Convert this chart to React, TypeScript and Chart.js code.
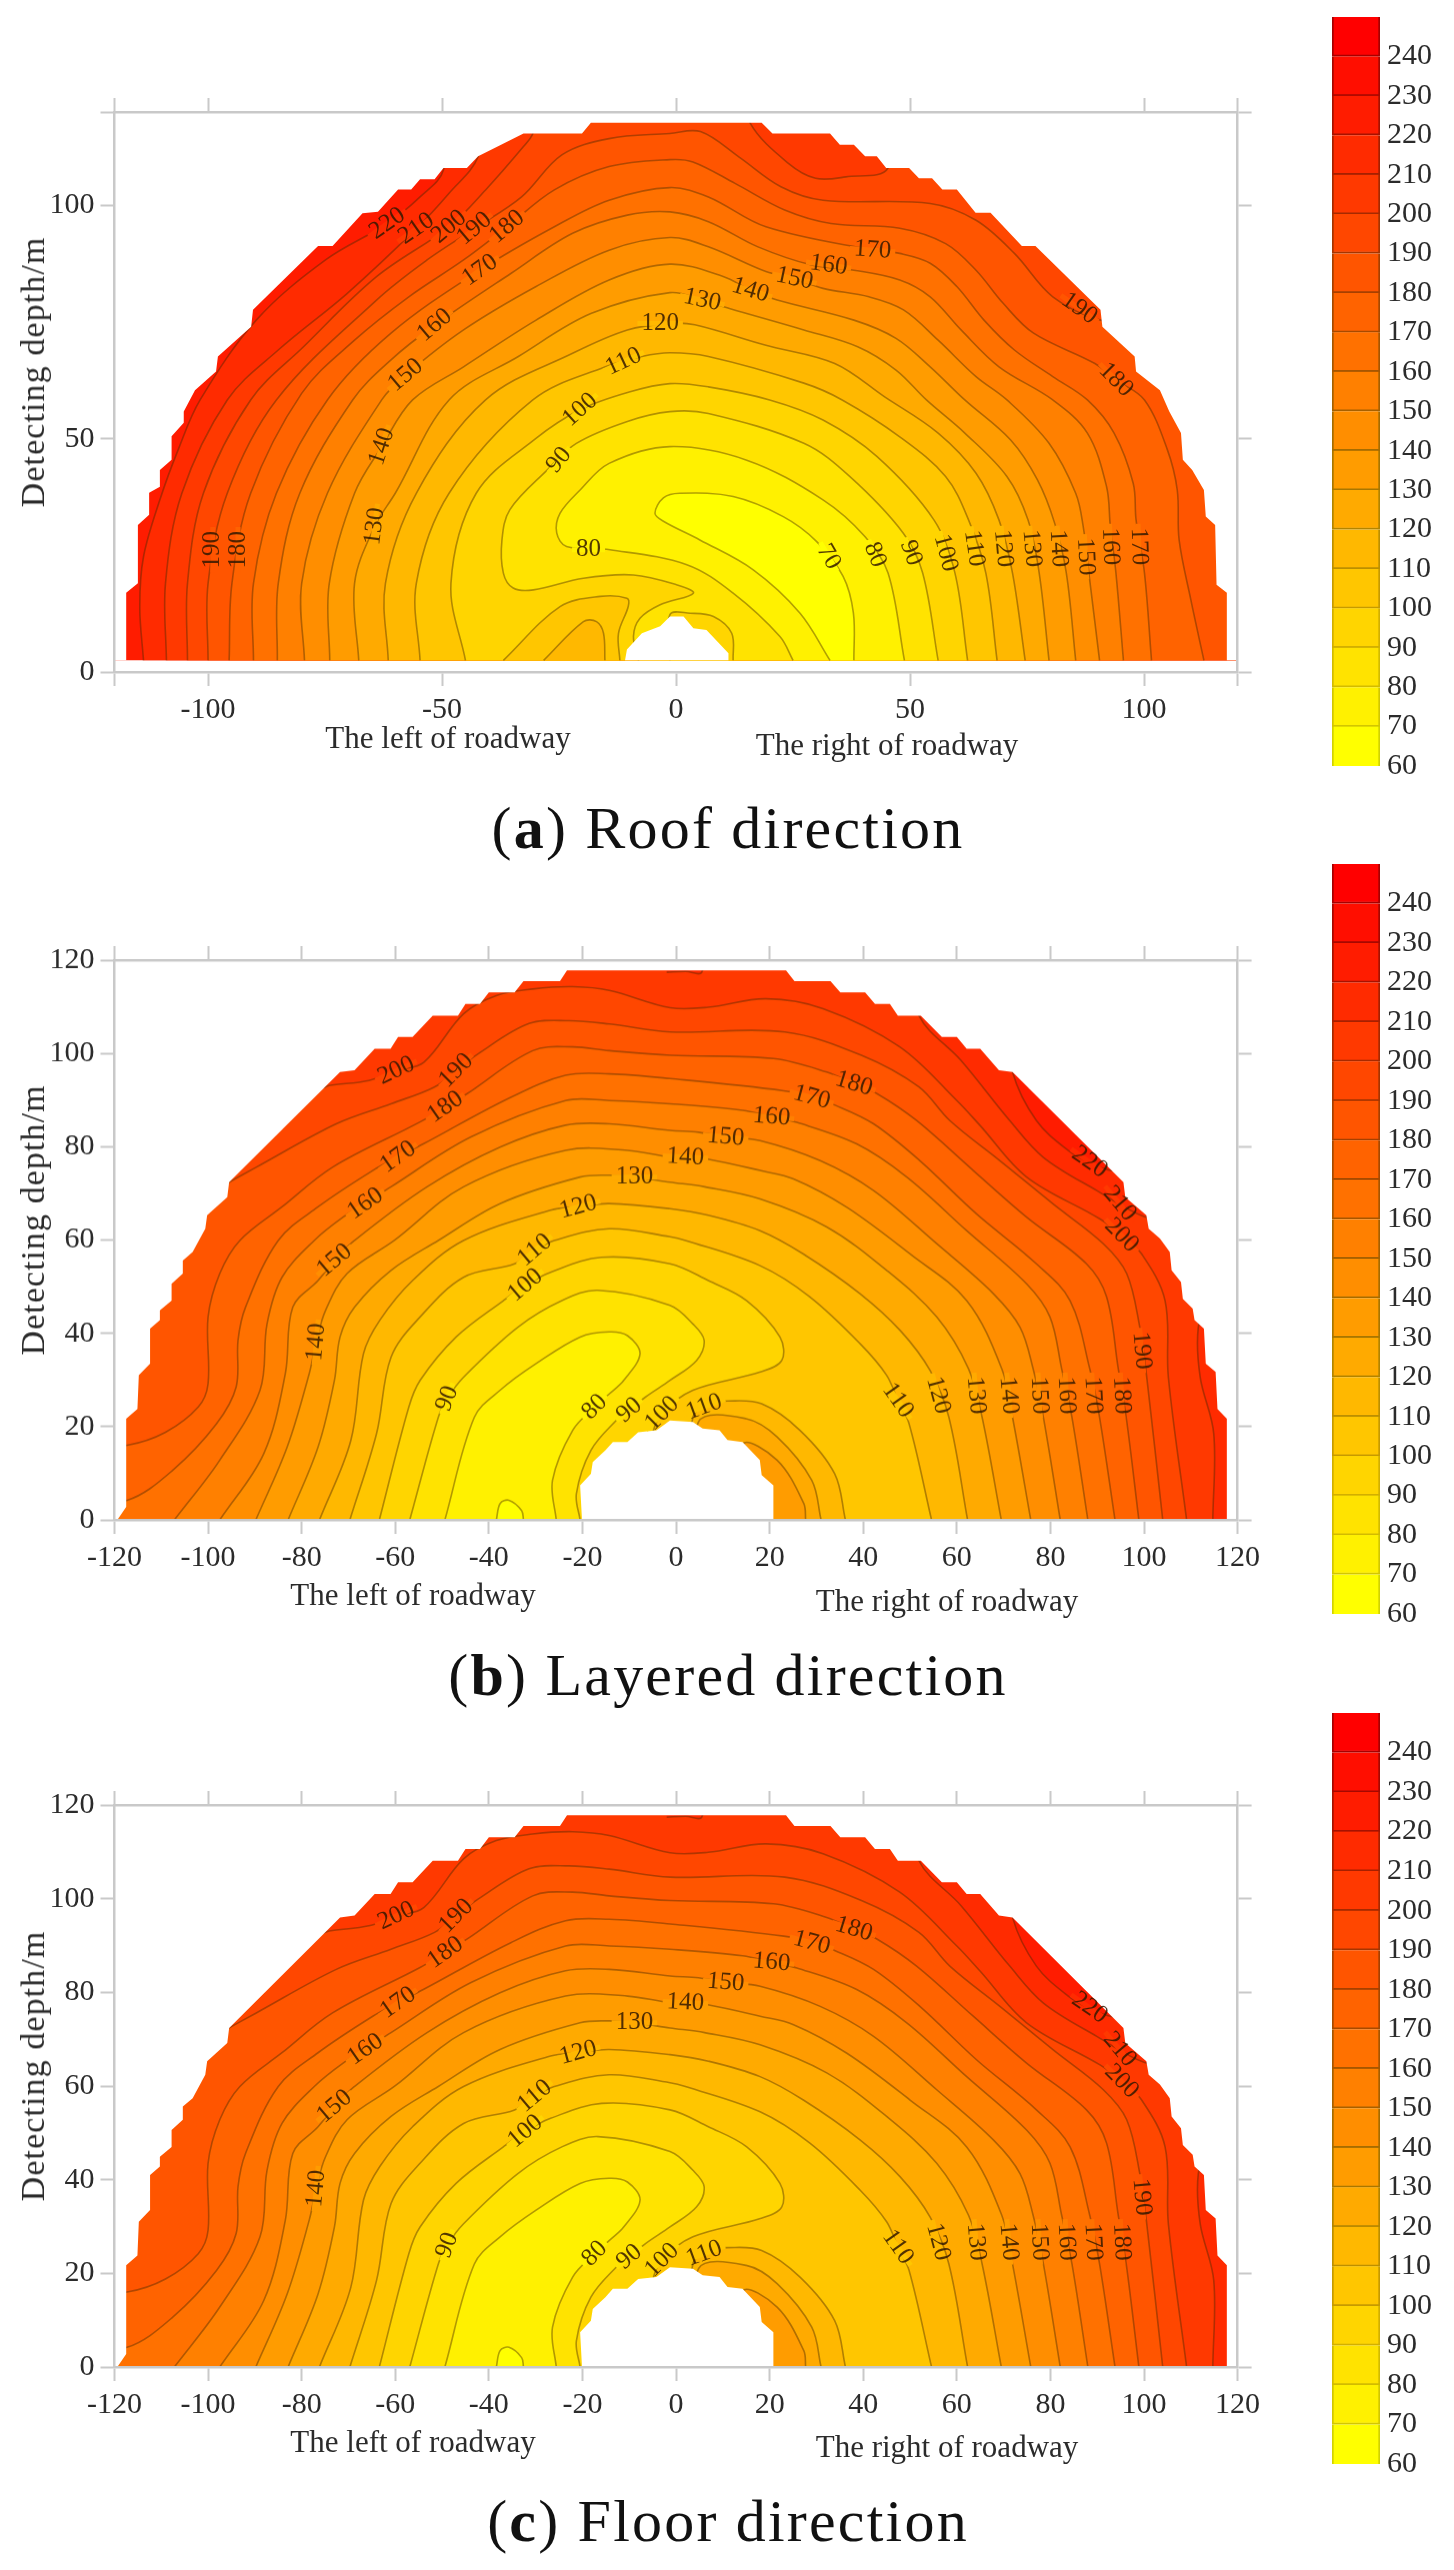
import React, { useEffect, useRef } from "react";
import { Chart, registerables } from "chart.js";

Chart.register(...registerables);

type Pt = [number, number];
type Lab = [number, number, number, number];

// colour of each 10-wide band, 60-70 up to 240-250
const bandColors = ["#ffff00","#fff100","#ffe300","#ffd500","#ffc600","#ffb800","#ffaa00","#ff9c00","#ff8e00","#ff8000","#ff7100","#ff6300","#ff5500","#ff4700","#ff3900","#ff2b00","#ff1c00","#ff0e00","#ff0000"];
// the darker edge of each band of the colour bar
const barEdges = ["#d2d200","#d2c600","#d2bb00","#d2af00","#c69a00","#bc8f00","#b28400","#a87600","#a66c00","#a66000","#a65600","#a64a00","#a64000","#a63500","#a62a00","#a62000","#a61200","#a60800","#a60000"];
const barLevels = [60,70,80,90,100,110,120,130,140,150,160,170,180,190,200,210,220,230,240,250];
const barTicks = [60,70,80,90,100,110,120,130,140,150,160,170,180,190,200,210,220,230,240];

const roofXTicks = [-120,-100,-50,0,50,100,120];
const roofYTicks = [0,50,100,120];
const layeredXTicks = [-120,-100,-80,-60,-40,-20,0,20,40,60,80,100,120];
const layeredYTicks = [0,20,40,60,80,100,120];

// ---------- (a) Roof direction: contours ----------
const roofBase: Pt[] = [[-130,2.5],[-130,125],[130,125],[130,2.5]];
const roof220: Pt[] = [[-113.8,2.5],[-114.6,14],[-113.8,24.7],[-110.3,36.9],[-106.4,47.6],[-101.7,58.3],[-89.7,75.4],[-74.9,88.3],[-61.7,96.1],[-54.7,101.8],[-49.7,107.6],[-49,125],[130,125],[130,2.5]];
const roof210: Pt[] = [[-108.9,2.5],[-109.1,19],[-105.6,38.3],[-95.9,58.3],[-85,69],[-70.3,81.1],[-55.5,95],[-48.5,102.6],[-42.3,110.4],[-40,125],[130,125],[130,2.5]];
const roof200: Pt[] = [[-104.4,2.5],[-104.4,19],[-101,38.3],[-90.9,58.3],[-79.6,69.7],[-64,84.7],[-48.5,95.4],[-40.7,103.3],[-32.6,112.6],[-30.6,115.4],[-28,125],[15,125],[15.9,117.5],[24,109],[29.8,105.8],[36.3,106.1],[45.3,108],[47,125],[130,125],[130,2.5]];
const roof190: Pt[] = [[-100,2.5],[-100,19],[-95.9,38.3],[-85.4,58.3],[-64,79.7],[-53.2,88.3],[-43.1,95],[-33,101.8],[-24.4,110.8],[-14.3,114.3],[-1.3,115.4],[5.2,115.8],[13.4,110.4],[22.4,104],[31.4,101.1],[54.3,100.4],[64.1,96.8],[72.3,89.7],[80.5,80.4],[90.7,75.4],[100,75],[130,70],[130,2.5]];
const roof180: Pt[] = [[-95.5,2.5],[-94.9,19],[-90.9,38.3],[-80,59.7],[-68.7,71.1],[-57.1,80.4],[-45.4,88.3],[-36.1,95.4],[-26,103.3],[-14.3,108.3],[-1.3,109.8],[3.6,109.3],[12.6,104.7],[23.2,99],[33.1,96.1],[47.8,95.1],[57.6,91.8],[64.1,86.1],[69.9,79],[76.4,72.6],[89.5,66.1],[94,62.6],[100.1,58.3],[105,47.6],[107.1,39],[107.5,28.3],[110,15.5],[112.8,2.5]];
const roof170: Pt[] = [[-90.3,2.5],[-90.3,19],[-85.4,38.3],[-74.5,58.3],[-60.9,72.6],[-41.9,86.1],[-26,95.4],[-14.3,101.1],[-1.3,103.8],[6.9,101.8],[19.2,95.4],[42,90.4],[47.8,89.7],[54.3,87.6],[60,82.6],[65.8,75.4],[72.3,69],[80.5,63.3],[87.9,58.3],[93.6,51.2],[97.7,40.4],[98.3,32.6],[100.1,21.2],[101.6,2.5]];
const roof160: Pt[] = [[-85.2,2.5],[-85,19],[-80.4,38.3],[-69.1,58.3],[-60.9,66.9],[-51.6,74.3],[-35.3,85.4],[-22.1,94],[-10.4,97.9],[-1.3,98.6],[6.9,96.5],[17.5,91.1],[29,87.2],[38,86.1],[47.8,84],[54.3,80.4],[60.9,73.3],[69,65.4],[80.5,58.3],[87.9,51.2],[92,39.7],[92.8,31.2],[94,21.2],[95.6,2.5]];
const roof150: Pt[] = [[-79.4,2.5],[-80,19],[-74.5,38.3],[-62.9,58.3],[-57.8,63.6],[-45.4,73.3],[-29.9,82.6],[-14.3,90.4],[-1.3,93.1],[6.9,91.1],[19.2,85.8],[25.3,84.3],[31.4,82.2],[41.2,80.4],[48.6,77.6],[56,71.1],[64.1,63.3],[70.7,58.3],[79.7,49],[85.4,38.3],[87,31.2],[88.3,20.5],[90.5,2.5]];
const roof140: Pt[] = [[-74,2.5],[-74.1,19],[-68.7,38.3],[-62.9,48.3],[-56.3,58.3],[-45.4,65.4],[-29.9,75.4],[-14.3,84],[-1.3,87.4],[10.2,84.7],[15.9,81.8],[21.6,79.7],[38,75.4],[47,71.5],[54.3,65.4],[61.7,58.3],[71.5,49.7],[77.2,41.2],[80.9,31.9],[83.4,21.2],[85.4,2.5]];
const roof130: Pt[] = [[-67.8,2.5],[-68.7,19],[-64.4,31.2],[-60,38.3],[-48.5,58.3],[-33.7,67.6],[-18.2,76.8],[-1.3,81.3],[5.6,79.7],[11.4,77.9],[27.3,73.3],[38.8,69.7],[47,64.7],[53.5,58.3],[61.7,51.2],[70.7,41.9],[75.2,32.6],[77.6,21.2],[79.7,2.5]];
const roof120: Pt[] = [[-61.5,2.5],[-62.1,19],[-55.5,38.3],[-40.7,58.3],[-22.1,68.3],[-10.4,73.3],[-1.3,74.7],[4,74.4],[19.2,70],[33.9,66.1],[44.5,59],[56,51.2],[64.1,42.6],[69,32.6],[71.9,21.2],[74.6,2.5]];
const roof110: Pt[] = [[-54.7,2.5],[-55.5,19],[-48.5,38.3],[-30.6,58.3],[-15.1,65.4],[-7.3,67.6],[-1.3,68.4],[6.9,67.6],[27.3,61.9],[35.5,58.3],[47.8,50.4],[57.6,41.9],[62.5,32.6],[66.2,21.2],[68.6,2.5]];
const roof100: Pt[] = [[-45,2.5],[-48.1,19],[-42.7,38.3],[-30,50],[-20.5,56.2],[-10,60],[-1.3,61.8],[6.9,61.1],[20,58.3],[31.4,54],[42.9,46.2],[55.1,32.6],[59.6,21.2],[62.3,2.5]];
const roofLobe100: Pt[] = [[-36.9,2.5],[-24.8,14],[-16.2,16.2],[-10.5,15.8],[-10.2,14.1],[-12.3,8.3],[-12,2.5]];
const roofLobe110: Pt[] = [[-28.3,2.5],[-19.8,10.8],[-17,10.8],[-15.5,8.3],[-15.2,2.5]];
const roof90: Pt[] = [[-8,2.5],[-9.1,7.6],[-7.7,11.5],[-3.4,14.4],[3.7,16.9],[0.1,18.7],[-9.1,20.8],[-19.8,20.1],[-30.5,17.6],[-34.8,18],[-36.9,21.2],[-37.2,28.3],[-35.5,34.8],[-27.5,43.3],[-21.3,49],[-10.4,53.7],[-1.3,55.8],[6.9,55.4],[27.3,49],[37.1,41.9],[48.6,29.7],[52.7,21.2],[56,2.5]];
const roofHoleIsland: Pt[] = [[-1.3,2.5],[-1.3,12.3],[3,12.6],[8,11.9],[11.9,8.3],[12.2,2.5]];
const roof80: Pt[] = [[25,2.5],[22.2,7.6],[12.2,16.9],[2.3,23],[-14.1,26.2],[-23.4,26.9],[-25.5,29.8],[-24.8,34],[-20.5,39],[-14.3,44.7],[-1.3,48.3],[15.1,45.4],[31.4,36.9],[40.4,29],[45.3,21.2],[48.8,2.5]];
const roof70: Pt[] = [[32.9,2.5],[26.5,12.6],[16.5,21.9],[5.1,28.3],[-2.7,32.3],[-4.5,34],[-2.7,37.3],[0.8,38.3],[12.2,37.6],[22.9,33.3],[30,28],[35.7,20.5],[37.9,12.6],[38,2.5]];
const roofHole: Pt[] = [[-10.9,2.5],[-10.5,4.8],[-7.3,8.3],[-3.4,9.8],[-1.3,11.9],[1.6,11.9],[3.7,9.4],[6.5,9],[11.2,4],[11.2,2.5]];
const roofMask: Pt[] = [[-130,2.5],[-130,130],[130,130],[130,2.5],[117.7,2.5],[117.7,17],[115.5,18.7],[115.2,31.5],[113.2,33.3],[112.8,39],[110.3,43.3],[108.3,45.5],[107.9,51.2],[105.4,55.8],[103.4,60.4],[98.3,64.4],[98,67.6],[91.1,74],[90.7,77.6],[76.8,91.3],[73.9,91.3],[67.2,98.4],[64,98.4],[60,103.4],[56.9,103.4],[54.7,105.8],[51.9,105.8],[49.8,108],[44.9,108],[42.9,110.5],[40.4,110.5],[38,113],[35,113],[32.9,115.4],[20.6,115.4],[18.3,117.7],[-18.2,117.7],[-20.1,115.4],[-32.6,115.4],[-37.6,112.9],[-42.3,110.5],[-44.7,108],[-49.7,108],[-51.6,105.6],[-54.7,105.6],[-56.6,103.4],[-59.4,103.4],[-63.7,98.6],[-67,98.3],[-73.4,91.3],[-76.5,91.3],[-90.4,77.6],[-90.8,74],[-97.9,67.6],[-98.3,64.4],[-102.8,60.4],[-105.2,55.8],[-105.2,53.4],[-107.8,50.5],[-107.8,45.5],[-110.3,43.3],[-110.3,39.7],[-112.6,38.4],[-112.6,33.7],[-115,31.5],[-115,19],[-117.5,17],[-117.5,2.5]];
const roofLabels: Lab[] = [[220,-61.7,96.1,-35],[210,-55.5,95,-35],[200,-48.5,95.4,-40],[190,-43.1,95,-40],[180,-36.1,95.4,-40],[170,-41.9,86.1,-35],[160,-51.6,74.3,-40],[150,-57.8,63.6,-40],[140,-62.9,48.3,-72],[130,-64.4,31.2,-83],[190,-99,26.2,-90],[180,-93.6,26.2,-90],[90,-25,45.4,-50],[100,-20.5,56.2,-42],[80,-18.7,26.2,0],[110,-11.2,66.5,-25],[120,-3.4,74.7,0],[130,5.6,79.7,12],[140,15.9,81.8,17],[150,25.3,84.3,12],[160,32.6,87.2,8],[170,42,90.4,4],[190,86.2,77.9,35],[180,94,62.6,45],[70,32.6,24.7,60],[80,42.5,25.1,68],[90,50.2,25.5,70],[100,57.6,25.5,75],[110,63.7,26.5,82],[120,69.9,26.5,85],[130,76,26.5,85],[140,81.7,26.5,87],[150,87.5,24.7,87],[160,92.8,26.9,88],[170,98.9,26.9,88]];

// ---------- (b) Layered and (c) Floor direction: contours ----------
const layeredBase: Pt[] = [[-130,0],[-130,125],[130,125],[130,0]];
const layered220: Pt[] = [[-130,0],[-130,125],[66,125],[71.9,96],[77,85.6],[83.8,79.2],[88.7,76.4],[92.8,74.9],[100,74],[130,60],[130,0]];
const layered210: Pt[] = [[-130,0],[-130,125],[48,125],[51.9,108.1],[60.9,98.5],[71.3,85.6],[78.5,77.7],[89.9,70.6],[100.1,65],[106,65],[114,48],[111.6,41.3],[112,30.6],[114.9,18.5],[114.7,0]];
const layered200: Pt[] = [[-130,0],[-130,90],[-76,92.5],[-74.1,93.1],[-65.6,94.2],[-59.8,96.3],[-53.9,98.1],[-45.4,108.5],[-38.4,112.4],[-30.6,113.8],[-22.1,114.3],[-14.3,113.5],[-1.3,109.8],[6.9,109.9],[19.2,111.7],[31.4,109.6],[47.8,101.4],[60,89.9],[65,84.5],[74.9,73.5],[90.6,64.5],[95.2,61],[99.5,57],[104.5,47],[105.2,30.6],[109.1,0]];
const layeredTopNotch: Pt[] = [[-2,117.4],[2,117.6],[5.5,117.4],[5.5,125],[-2,125]];
const layered190: Pt[] = [[-130,0],[-130,70],[-97,71.5],[-95.5,72.4],[-89.7,75.6],[-72.6,84.9],[-60.9,89.2],[-51.6,92.8],[-47,96.3],[-42.3,99.9],[-31.4,106.4],[-22.9,107],[-14.3,106.3],[-1.3,104.6],[23.2,104.6],[39.6,99.6],[51.9,92.8],[58.5,85.6],[69.2,77],[80.6,67.7],[91.3,59.2],[96.3,52.8],[99.1,41.3],[100.5,31.3],[104,0]];
const layered180: Pt[] = [[-130,0],[-130,15],[-117.3,16],[-109.1,18.8],[-102.1,24.2],[-100,29.2],[-100,43.5],[-97.5,52.8],[-93.2,59.9],[-84.2,67.1],[-73.4,75.6],[-54.7,85.3],[-49.3,88.5],[-44.6,91.4],[-30.6,100.6],[-22.1,101.4],[-14.3,100.6],[-1.3,99.6],[20.8,98.9],[32.2,96],[38,93.5],[42.9,91.4],[51.4,85.6],[63.5,74.9],[74.9,64.9],[87.7,54.9],[92,47.8],[94.5,32.4],[96.2,22],[98.9,0]];
const layered170: Pt[] = [[-130,0],[-130,3.5],[-117.3,4.2],[-107.6,10.6],[-98.2,20.6],[-94,28.5],[-93.6,38.5],[-92,45.6],[-85,59.9],[-76.5,67.1],[-64.8,74.9],[-59.4,77.8],[-54,80.6],[-35.3,90.6],[-23.6,95.3],[-14.3,95.6],[-1.3,94.6],[23,92],[29,90.6],[34,88.9],[42.2,84.9],[52.1,77],[64.2,65.6],[77,54.9],[84.2,47],[88.4,32.4],[90.5,22],[93.8,0]];
const layered160: Pt[] = [[-107.2,0],[-97.5,12.8],[-88.9,27.8],[-87.4,42],[-84.2,52],[-77.3,59.9],[-71,65],[-66.4,67.8],[-60.9,71.4],[-43.8,82.1],[-23.6,89.9],[-14.3,89.9],[-1.3,89.2],[14.2,87.8],[20.4,86.4],[25.8,85.2],[38.6,80.6],[49.3,73.5],[62.1,62],[74.9,50.6],[79.9,43.5],[82.4,32.4],[84.6,22],[88,0]];
const layered150: Pt[] = [[-97.5,0],[-88.1,14.2],[-83.5,31.3],[-81.9,45.6],[-76.5,51.3],[-73,55.6],[-68.7,59.9],[-53.2,71.4],[-37.6,79.9],[-23.6,84.6],[-14.3,84.9],[-1.3,83.5],[4.8,83.1],[10.6,82.1],[17.95,81.3],[30.8,77],[42.2,70.6],[55.7,59.2],[67.8,48.5],[73.5,41.3],[76.3,32.4],[78.5,22],[82.1,0]];
const layered140: Pt[] = [[-89.8,0],[-83.1,15.6],[-78.4,31.3],[-76.9,38.1],[-74.9,44.9],[-70.3,52.8],[-60.2,59.9],[-45.4,71.4],[-23.6,79.2],[-10.4,79.2],[-1.3,77.8],[2,77.8],[6.5,77.4],[17.95,74.9],[25.1,73.1],[36.5,67],[50,57],[62.1,47],[69.6,32.4],[71.9,22],[75.8,0]];
const layered130: Pt[] = [[-82.9,0],[-76.5,15.6],[-73,29.9],[-71.8,39.2],[-68.7,45.6],[-60.9,53.5],[-50.8,59.9],[-37.6,67.8],[-20.5,73.5],[-14.3,73.9],[-8.9,73.5],[-1.3,72.4],[6.1,71.4],[17.95,68.8],[32.2,62.8],[45,53.5],[55.7,43.5],[62.5,32.4],[65.4,22],[69.5,0]];
const layered120: Pt[] = [[-76.2,0],[-69.5,17],[-66.8,35.6],[-63.3,42.8],[-56.3,51.3],[-45.4,59.9],[-26.8,66.4],[-20.9,67.1],[-14.3,67.8],[-1.3,66.7],[6.9,65.3],[17.95,62],[27.2,57],[39.3,48.5],[47.9,40.6],[54.3,32],[58.3,22],[62.3,0]];
const layered110: Pt[] = [[-69.7,0],[-64,18.5],[-60.9,34.9],[-54.7,43.5],[-45.4,52],[-34.5,54.9],[-30.2,57.8],[-26,59.9],[-14.3,62.4],[-1.3,60.7],[2,59.9],[17.95,54.5],[28.6,47.8],[39.3,37.8],[45,31],[47.4,25.6],[49.8,20.6],[54.6,0]];
const layeredIsland110: Pt[] = [[2,0],[3.6,22],[7.3,24.9],[11,25.5],[18.3,24.9],[26.5,19.2],[33.9,9.9],[36.2,0]];
const layeredIsland120: Pt[] = [[4,0],[4.8,21],[15,21.7],[21.6,17.8],[29,8.5],[31,0]];
const layeredIsland130: Pt[] = [[13,0],[14.2,16.2],[21.6,12.8],[27.3,3.5],[27.7,0]];
const layered100: Pt[] = [[-63.4,0],[-57.1,24.2],[-54.7,29.9],[-47,39.2],[-36.9,47],[-32.2,50.3],[-26.8,53.1],[-15.9,56.3],[-1.3,54.9],[6.9,51.3],[15.1,47],[22.2,39.2],[22.6,34.2],[18,31.7],[3.6,27.8],[-3,22.8],[-5,18],[-5,0]];
const layered90: Pt[] = [[-56.9,0],[-50.8,22],[-48.9,26],[-45.4,30.6],[-33.8,41.3],[-24.4,47],[-16.7,49.2],[-1.3,46],[3.6,42],[6,38.5],[4.4,34.2],[-1.3,29.9],[-6.6,26.3],[-10,23.5],[-12.8,21.3],[-18.2,14.9],[-21.3,5.6],[-20.5,0]];
const layered80: Pt[] = [[-49.4,0],[-43.1,22],[-37.6,27.8],[-29.9,33.5],[-20.5,39.2],[-14.3,40.3],[-10.4,39.5],[-7.7,35.6],[-11.2,29.9],[-14.3,27],[-17.4,24.2],[-22.1,19.2],[-26.4,8.5],[-25.6,0]];
const layered70: Pt[] = [[-38.4,0],[-37.6,3.5],[-35.7,4.2],[-33,2],[-32.6,0]];
const layeredHole: Pt[] = [[-20.1,0],[-20.5,7.4],[-18.2,9.9],[-17.8,12.4],[-15.1,14.9],[-13.5,16.7],[-10.4,16.7],[-8.1,18.8],[-4.2,19.2],[-1.3,21.3],[3.6,21],[5.7,19.6],[9.3,19.2],[11,17.1],[14.2,16.7],[17.9,12.8],[18.3,9.6],[20.8,7.4],[20.8,0]];
const layeredMask: Pt[] = [[-130,0],[-130,130],[130,130],[130,0],[117.7,0],[117.7,21.7],[115.7,23.8],[115.3,31.7],[113.2,33.5],[112.8,41],[110.8,42.8],[110.4,45.3],[108.3,47.4],[107.9,51],[105.9,53.5],[105.5,57.4],[103.4,60.3],[101,62.4],[100.5,65.3],[96,69.2],[95.6,72.4],[71.9,96],[69,96.4],[65,101],[62.1,101],[60,103.5],[56.8,103.5],[52.3,108.1],[47.4,108.1],[45.7,110.6],[42.5,110.6],[40.4,113.1],[35.1,113.1],[33,115.5],[25.3,115.5],[23.5,117.8],[-23.3,117.8],[-24.8,115.5],[-32.6,115.5],[-34.5,113.1],[-40,113.1],[-41.9,110.6],[-45,110.6],[-46.6,108.1],[-52,108.1],[-56.3,103.5],[-59.4,103.5],[-61,101],[-64.4,101],[-68.7,96.4],[-71.8,96],[-95.5,72.4],[-95.9,69.2],[-100.2,65.3],[-100.6,62.4],[-103.3,57.4],[-105.4,55.6],[-105.4,52.8],[-107.8,50.6],[-107.8,47],[-110.3,44.9],[-110.3,42.8],[-112.4,41],[-112.4,33.5],[-114.8,31],[-115.1,23.8],[-117.5,21.7],[-117.5,2.8],[-119.4,0]];
const layeredLabels: Lab[] = [[200,-59.8,96.3,-25],[190,-47,96.3,-45],[180,-49.3,88.5,-35],[170,-59.4,77.8,-35],[160,-66.4,67.8,-35],[150,-73,55.6,-40],[140,-76.9,38.1,-85],[110,-30.2,57.8,-40],[100,-32.2,50.3,-40],[90,-48.9,26,-70],[80,-17.4,24.2,-45],[90,-10,23.5,-40],[100,-3,22.8,-45],[110,6,24.2,-20],[120,-20.9,67.1,-15],[130,-8.9,73.5,0],[140,2,77.8,3],[150,10.6,82.1,5],[160,20.4,86.4,5],[170,29,90.6,15],[180,38,93.5,17],[220,88.4,76.7,35],[210,94.8,67.8,50],[200,95.2,61,45],[190,99.5,36.3,85],[110,47.4,25.6,55],[120,56,26.7,75],[130,64.1,26.7,85],[140,71.1,26.7,85],[150,77.6,26.7,87],[160,83.4,26.7,87],[170,89.1,26.7,87],[180,95.2,26.7,87]];

type Layer = { pts: Pt[]; color: string; line?: boolean };
const FRAME = "#c9c9c9";
const SERIF = "'Liberation Serif', serif";

const pl = (level: number, pts: Pt[]): Layer => ({ pts, color: bandColors[(level - 70) / 10], line: true });
const isl = (level: number, pts: Pt[]): Layer => ({ pts, color: bandColors[(level - 60) / 10], line: true });

const roofLayers: Layer[] = [
  { pts: roofBase, color: bandColors[16] },
  pl(220, roof220), pl(210, roof210), pl(200, roof200), pl(190, roof190), pl(180, roof180), pl(170, roof170),
  pl(160, roof160), pl(150, roof150), pl(140, roof140), pl(130, roof130), pl(120, roof120), pl(110, roof110), pl(100, roof100),
  isl(100, roofLobe100), isl(110, roofLobe110), pl(90, roof90), isl(90, roofHoleIsland), pl(80, roof80), pl(70, roof70),
  { pts: roofHole, color: "#ffffff" }, { pts: roofMask, color: "#ffffff" },
];
const layeredLayers: Layer[] = [
  { pts: layeredBase, color: bandColors[16] },
  pl(220, layered220), pl(210, layered210), pl(200, layered200), isl(210, layeredTopNotch), pl(190, layered190), pl(180, layered180), pl(170, layered170),
  pl(160, layered160), pl(150, layered150), pl(140, layered140), pl(130, layered130), pl(120, layered120), pl(110, layered110),
  isl(110, layeredIsland110), isl(120, layeredIsland120), isl(130, layeredIsland130),
  pl(100, layered100), pl(90, layered90), pl(80, layered80), pl(70, layered70),
  { pts: layeredHole, color: "#ffffff" }, { pts: layeredMask, color: "#ffffff" },
];

const tickStyle = {
  grid: { drawOnChartArea: false, drawTicks: true, tickLength: 14, tickWidth: 2, tickColor: FRAME, z: 1 },
  border: { display: true, color: FRAME, width: 2.5, z: 1 },
};

function ContourPanel({ top, baseline, layers, labels, xTicks, yTicks, hideX, hideY }: {
  top: number; baseline: number; layers: Layer[]; labels: Lab[]; xTicks: number[]; yTicks: number[]; hideX: number[]; hideY: number[];
}) {
  const ref = useRef<HTMLCanvasElement>(null);
  const W = 1300;
  const areaTop = top;
  const canvasTop = areaTop - 40;
  const H = baseline - canvasTop + 70;
  useEffect(() => {
    const n = layers.length;
    const labelPlugin = {
      id: "contourLabels",
      afterDatasetsDraw(chart: any) {
        const { ctx, scales } = chart;
        ctx.save();
        ctx.font = `25px ${SERIF}`;
        ctx.textAlign = "center";
        ctx.textBaseline = "middle";
        for (const [v, x, y, r] of labels) {
          ctx.save();
          ctx.translate(scales.x.getPixelForValue(x), scales.y.getPixelForValue(y));
          ctx.rotate((r * Math.PI) / 180);
          const w = ctx.measureText(String(v)).width + 8;
          ctx.fillStyle = bandColors[(v - 70) / 10];
          ctx.fillRect(-w / 2, -2.5, w, 5);
          ctx.fillStyle = "rgba(50,25,0,0.85)";
          ctx.fillText(String(v), 0, 0);
          ctx.restore();
        }
        ctx.restore();
      },
    };
    const setTicks = (vals: number[]) => (s: any) => { s.ticks = vals.map((value) => ({ value })); };
    const font = { family: SERIF, size: 30 };
    const chart = new Chart(ref.current as HTMLCanvasElement, {
      type: "scatter",
      data: {
        datasets: layers.map((l, i) => ({
          data: l.pts.map(([x, y]) => ({ x, y })),
          showLine: true,
          fill: "shape",
          backgroundColor: l.color,
          borderColor: l.line ? "rgba(70,40,0,0.42)" : l.color,
          borderWidth: l.line ? 1.6 : 0,
          pointRadius: 0,
          pointHitRadius: 0,
          tension: l.line ? 0.35 : 0,
          order: n - i,
        })),
      } as any,
      options: {
        responsive: false,
        animation: false,
        devicePixelRatio: 1,
        events: [],
        layout: { padding: 0 },
        plugins: { legend: { display: false }, tooltip: { enabled: false } },
        scales: {
          x: {
            type: "linear", position: "bottom", min: -120, max: 120, ...tickStyle,
            afterBuildTicks: setTicks(xTicks),
            afterFit: (s: any) => { s.height = 70; },
            ticks: { font, color: "#2b2b2b", padding: 6, maxRotation: 0, autoSkip: false, callback: (v: any) => (hideX.includes(v) ? "" : String(v)) },
          },
          x2: {
            type: "linear", axis: "x", position: "top", min: -120, max: 120, ...tickStyle,
            afterBuildTicks: setTicks(xTicks),
            afterFit: (s: any) => { s.height = 40; },
            ticks: { display: false },
          },
          y: {
            type: "linear", position: "left", min: 0, max: 120, ...tickStyle,
            afterBuildTicks: setTicks(yTicks),
            afterFit: (s: any) => { s.width = 114.5; },
            ticks: { font, color: "#2b2b2b", padding: 6, autoSkip: false, callback: (v: any) => (hideY.includes(v) ? "" : String(v)) },
          },
          y2: {
            type: "linear", axis: "y", position: "right", min: 0, max: 120, ...tickStyle,
            afterBuildTicks: setTicks(yTicks),
            afterFit: (s: any) => { s.width = W - 1237.6; },
            ticks: { display: false },
          },
        },
      } as any,
      plugins: [labelPlugin],
    });
    return () => chart.destroy();
  }, []);
  return <canvas ref={ref} width={W} height={H} style={{ position: "absolute", left: 0, top: canvasTop, width: W, height: H }} />;
}

function ColorBar({ top, bottom }: { top: number; bottom: number }) {
  const ref = useRef<HTMLCanvasElement>(null);
  const H = bottom - top + 40;
  useEffect(() => {
    const chart = new Chart(ref.current as HTMLCanvasElement, {
      type: "bar",
      data: {
        labels: [""],
        datasets: bandColors.map((c, i) => ({
          data: [[barLevels[i], barLevels[i + 1]]],
          backgroundColor: c,
          borderColor: barEdges[i],
          borderWidth: { top: 0, bottom: i === 0 ? 0 : 2, left: 2, right: 2 },
          borderSkipped: false,
          barPercentage: 1,
          categoryPercentage: 1,
          grouped: false,
        })),
      } as any,
      options: {
        responsive: false,
        animation: false,
        devicePixelRatio: 1,
        events: [],
        layout: { padding: { left: 32, top: 20, bottom: 20, right: 0 } },
        plugins: { legend: { display: false }, tooltip: { enabled: false } },
        scales: {
          x: { display: false },
          y: {
            position: "right", min: 60, max: 250,
            grid: { display: false, drawTicks: false },
            border: { display: false },
            afterBuildTicks: (s: any) => { s.ticks = barTicks.map((value) => ({ value })); },
            afterFit: (s: any) => { s.width = 74; s.paddingTop = 0; s.paddingBottom = 0; },
            ticks: { font: { family: SERIF, size: 30 }, color: "#2b2b2b", padding: 7, autoSkip: false },
          },
        },
      } as any,
    });
    return () => chart.destroy();
  }, []);
  return <canvas ref={ref} width={154} height={H} style={{ position: "absolute", left: 1300, top: top - 20, width: 154, height: H }} />;
}

const Note = ({ x, y, text, size = 30, rot = 0, spacing = 0 }: { x: number; y: number; text: string; size?: number; rot?: number; spacing?: number }) => (
  <div style={{ position: "absolute", left: x, top: y, transform: `translate(-50%,-50%) rotate(${rot}deg)`, font: `${size}px ${SERIF}`, letterSpacing: spacing, color: "#2b2b2b", whiteSpace: "nowrap" }}>{text}</div>
);

const Caption = ({ y, letter, text }: { y: number; letter: string; text: string }) => (
  <div style={{ position: "absolute", left: 728, top: y, transform: "translate(-50%,-50%)", font: `60px ${SERIF}`, letterSpacing: 2.2, color: "#111", whiteSpace: "nowrap" }}>
    (<b>{letter}</b>) {text}
  </div>
);

export default function App() {
  return (
    <div style={{ position: "absolute", left: 0, top: 0, width: 1454, height: 2570, background: "#fff", overflow: "hidden" }}>
      <ColorBar top={17} bottom={766} />
      <ContourPanel top={112} baseline={672.3} layers={roofLayers} labels={roofLabels} xTicks={roofXTicks} yTicks={roofYTicks} hideX={[-120, 120]} hideY={[120]} />
      <Note x={33} y={372} text="Detecting depth/m" size={34} rot={-90} spacing={1.1} />
      <Note x={448} y={738} text="The left of roadway" size={31} />
      <Note x={887} y={745} text="The right of roadway" size={31} />
      <Caption y={828} letter="a" text="Roof direction" />

      <ColorBar top={864} bottom={1614} />
      <ContourPanel top={959.6} baseline={1519.6} layers={layeredLayers} labels={layeredLabels} xTicks={layeredXTicks} yTicks={layeredYTicks} hideX={[]} hideY={[]} />
      <Note x={33} y={1220} text="Detecting depth/m" size={34} rot={-90} spacing={1.1} />
      <Note x={413} y={1595} text="The left of roadway" size={31} />
      <Note x={947} y={1601} text="The right of roadway" size={31} />
      <Caption y={1675} letter="b" text="Layered direction" />

      <ColorBar top={1713} bottom={2464} />
      <ContourPanel top={1805} baseline={2367} layers={layeredLayers} labels={layeredLabels} xTicks={layeredXTicks} yTicks={layeredYTicks} hideX={[]} hideY={[]} />
      <Note x={33} y={2066} text="Detecting depth/m" size={34} rot={-90} spacing={1.1} />
      <Note x={413} y={2442} text="The left of roadway" size={31} />
      <Note x={947} y={2447} text="The right of roadway" size={31} />
      <Caption y={2521} letter="c" text="Floor direction" />
    </div>
  );
}
